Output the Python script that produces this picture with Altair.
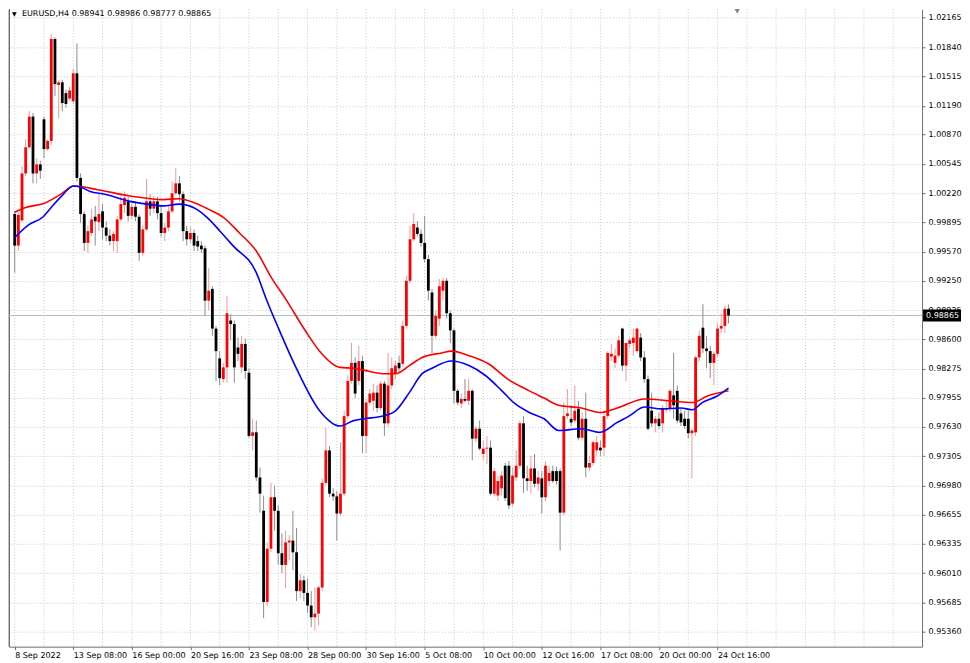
import json
import altair as alt
import pandas as pd

# ---------------- data ----------------
OPEN = [
    0.9999, 0.9964, 0.9992, 1.0044, 1.0073, 1.0107, 1.0044, 1.0054, 1.0104, 1.0071,
    1.0080, 1.0193, 1.0142, 1.0145, 1.0133, 1.0127, 1.0124, 1.0155, 1.0039, 0.9999,
    0.9967, 0.9978, 0.9996, 0.9990, 1.0002, 0.9984, 0.9975, 0.9969, 0.9969, 0.9993,
    1.0009, 1.0013, 0.9997, 1.0007, 0.9996, 0.9956, 0.9982, 1.0013, 1.0005, 1.0013,
    1.0000, 0.9978, 0.9984, 1.0002, 1.0022, 1.0033, 1.0021, 0.9980, 0.9971, 0.9978,
    0.9969, 0.9964, 0.9961, 0.9903, 0.9916, 0.9872, 0.9839, 0.9816, 0.9829, 0.9881,
    0.9877, 0.9851, 0.9829, 0.9855, 0.9823, 0.9753, 0.9757, 0.9707, 0.9670, 0.9569,
    0.9628, 0.9685, 0.9670, 0.9623, 0.9610, 0.9635, 0.9637, 0.9624, 0.9581, 0.9593,
    0.9579, 0.9565, 0.9552, 0.9556, 0.9585, 0.9701, 0.9737, 0.9689, 0.9686, 0.9667,
    0.9689, 0.9775, 0.9814, 0.9834, 0.9814, 0.9836, 0.9753, 0.9790, 0.9792, 0.9801,
    0.9784, 0.9811, 0.9767, 0.9809, 0.9822, 0.9834, 0.9833, 0.9875, 0.9925, 0.9971,
    0.9984, 0.9977, 0.9967, 0.9949, 0.9912, 0.9864, 0.9883, 0.9914, 0.9925, 0.9889,
    0.9870, 0.9803, 0.9789, 0.9794, 0.9792, 0.9803, 0.9750, 0.9761, 0.9733, 0.9739,
    0.9740, 0.9689, 0.9687, 0.9695, 0.9720, 0.9720, 0.9678, 0.9707, 0.9720, 0.9767,
    0.9706, 0.9703, 0.9717, 0.9700, 0.9706, 0.9685, 0.9703, 0.9714, 0.9714, 0.9714,
    0.9668, 0.9775, 0.9772, 0.9770, 0.9783, 0.9751, 0.9772, 0.9718, 0.9723, 0.9737,
    0.9740, 0.9740, 0.9775, 0.9841, 0.9834, 0.9842, 0.9872, 0.9831, 0.9855, 0.9856,
    0.9847, 0.9862, 0.9840, 0.9816, 0.9781, 0.9767, 0.9772, 0.9767, 0.9782, 0.9783,
    0.9798, 0.9803, 0.9778, 0.9772, 0.9772, 0.9756, 0.9757, 0.9840, 0.9873, 0.9850,
    0.9847, 0.9834, 0.9844, 0.9872, 0.9875, 0.98941,
]
HIGH = [
    1.0002, 1.0001, 1.0052, 1.0082, 1.0113, 1.0111, 1.0061, 1.0058, 1.0107, 1.0082,
    1.0199, 1.0195, 1.0147, 1.0148, 1.0137, 1.0140, 1.0160, 1.0188, 1.0044, 1.0002,
    0.9986, 1.0005, 1.0008, 1.0022, 1.0010, 0.9991, 0.9982, 0.9980, 0.9997, 1.0021,
    1.0024, 1.0018, 1.0011, 1.0013, 0.9999, 0.9987, 1.0038, 1.0021, 1.0019, 1.0018,
    1.0008, 0.9989, 1.0008, 1.0035, 1.0050, 1.0041, 1.0024, 0.9986, 0.9985, 0.9982,
    0.9975, 0.9969, 0.9964, 0.9939, 0.9919, 0.9875, 0.9847, 0.9834, 0.9908, 0.9888,
    0.9881, 0.9862, 0.9864, 0.9861, 0.9828, 0.9772, 0.9770, 0.9718, 0.9687, 0.9635,
    0.9701, 0.9698, 0.9676, 0.9645, 0.9648, 0.9643, 0.9670, 0.9651, 0.9600, 0.9598,
    0.9595, 0.9581, 0.9585, 0.9587, 0.9706, 0.9762, 0.9742, 0.9695, 0.9692, 0.9746,
    0.9781, 0.9820, 0.9856, 0.9840, 0.9853, 0.9842, 0.9794, 0.9805, 0.9811, 0.9809,
    0.9814, 0.9814, 0.9845, 0.9840, 0.9836, 0.9842, 0.9881, 0.9931, 0.9986, 1.0000,
    0.9991, 0.9982, 0.9997, 0.9954, 0.9916, 0.9892, 0.9927, 0.9928, 0.9928, 0.9892,
    0.9872, 0.9805, 0.9800, 0.9816, 0.9816, 0.9805, 0.9764, 0.9770, 0.9748, 0.9753,
    0.9748, 0.9718, 0.9709, 0.9714, 0.9723, 0.9725, 0.9718, 0.9737, 0.9770, 0.9775,
    0.9720, 0.9731, 0.9733, 0.9714, 0.9714, 0.9725, 0.9720, 0.9720, 0.9719, 0.9717,
    0.9790, 0.9805, 0.9787, 0.9809, 0.9792, 0.9779, 0.9801, 0.9731, 0.9748, 0.9753,
    0.9748, 0.9781, 0.9847, 0.9855, 0.9850, 0.9864, 0.9873, 0.9853, 0.9862, 0.9872,
    0.9873, 0.9867, 0.9847, 0.9820, 0.9801, 0.9775, 0.9779, 0.9787, 0.9792, 0.9805,
    0.9845, 0.9809, 0.9783, 0.9781, 0.9781, 0.9761, 0.9842, 0.9870, 0.9899, 0.9864,
    0.9853, 0.9847, 0.9878, 0.9889, 0.9897, 0.98986,
]
LOW = [
    0.9934, 0.9958, 0.9990, 1.0041, 1.0071, 1.0033, 1.0033, 1.0038, 1.0061, 1.0069,
    1.0076, 1.0130, 1.0105, 1.0113, 1.0117, 1.0125, 1.0121, 1.0035, 0.9989, 0.9958,
    0.9956, 0.9975, 0.9964, 0.9980, 0.9971, 0.9969, 0.9964, 0.9958, 0.9956, 0.9991,
    1.0000, 0.9991, 0.9993, 0.9991, 0.9947, 0.9953, 0.9980, 0.9997, 1.0000, 0.9993,
    0.9974, 0.9969, 0.9980, 1.0000, 1.0020, 1.0013, 0.9969, 0.9964, 0.9967, 0.9958,
    0.9958, 0.9956, 0.9886, 0.9892, 0.9864, 0.9814, 0.9809, 0.9812, 0.9812, 0.9859,
    0.9812, 0.9836, 0.9823, 0.9816, 0.9751, 0.9737, 0.9703, 0.9668, 0.9551, 0.9565,
    0.9624, 0.9648, 0.9610, 0.9601, 0.9584, 0.9615, 0.9604, 0.9570, 0.9573, 0.9570,
    0.9557, 0.9541, 0.9537, 0.9543, 0.9581, 0.9698, 0.9685, 0.9681, 0.9637, 0.9664,
    0.9686, 0.9772, 0.9811, 0.9795, 0.9809, 0.9734, 0.9734, 0.9787, 0.9781, 0.9779,
    0.9781, 0.9753, 0.9763, 0.9805, 0.9816, 0.9823, 0.9830, 0.9872, 0.9922, 0.9969,
    0.9974, 0.9963, 0.9945, 0.9903, 0.9845, 0.9861, 0.9875, 0.9903, 0.9883, 0.9856,
    0.9789, 0.9787, 0.9784, 0.9790, 0.9787, 0.9726, 0.9746, 0.9737, 0.9726, 0.9722,
    0.9687, 0.9686, 0.9681, 0.9687, 0.9681, 0.9672, 0.9675, 0.9703, 0.9717, 0.9690,
    0.9692, 0.9689, 0.9696, 0.9692, 0.9667, 0.9681, 0.9698, 0.9701, 0.9699, 0.9626,
    0.9665, 0.9772, 0.9764, 0.9767, 0.9748, 0.9748, 0.9707, 0.9714, 0.9720, 0.9731,
    0.9731, 0.9731, 0.9772, 0.9836, 0.9828, 0.9839, 0.9825, 0.9814, 0.9851, 0.9842,
    0.9845, 0.9836, 0.9812, 0.9759, 0.9763, 0.9757, 0.9761, 0.9757, 0.9779, 0.9780,
    0.9772, 0.9767, 0.9764, 0.9761, 0.9750, 0.9706, 0.9753, 0.9836, 0.9845, 0.9828,
    0.9817, 0.9809, 0.9841, 0.9867, 0.9867, 0.98777,
]
CLOSE = [
    0.9964, 0.9998, 1.0044, 1.0073, 1.0107, 1.0044, 1.0054, 1.0047, 1.0071, 1.0080,
    1.0193, 1.0143, 1.0145, 1.0122, 1.0121, 1.0136, 1.0155, 1.0039, 0.9999, 0.9967,
    0.9980, 0.9993, 0.9991, 0.9999, 0.9984, 0.9975, 0.9969, 0.9977, 0.9993, 1.0010,
    1.0017, 0.9997, 1.0007, 0.9996, 0.9956, 0.9982, 1.0013, 1.0005, 1.0013, 1.0000,
    0.9978, 0.9984, 1.0002, 1.0022, 1.0033, 1.0021, 0.9980, 0.9971, 0.9978, 0.9964,
    0.9963, 0.9960, 0.9903, 0.9914, 0.9872, 0.9847, 0.9817, 0.9829, 0.9889, 0.9877,
    0.9829, 0.9844, 0.9855, 0.9825, 0.9753, 0.9757, 0.9707, 0.9689, 0.9569, 0.9628,
    0.9685, 0.9670, 0.9623, 0.9610, 0.9635, 0.9637, 0.9624, 0.9581, 0.9593, 0.9579,
    0.9565, 0.9552, 0.9556, 0.9585, 0.9701, 0.9737, 0.9689, 0.9686, 0.9667, 0.9689,
    0.9775, 0.9814, 0.9834, 0.9800, 0.9836, 0.9753, 0.9790, 0.9800, 0.9801, 0.9784,
    0.9811, 0.9767, 0.9809, 0.9828, 0.9831, 0.9828, 0.9875, 0.9925, 0.9971, 0.9988,
    0.9977, 0.9967, 0.9949, 0.9914, 0.9864, 0.9886, 0.9919, 0.9925, 0.9889, 0.9870,
    0.9803, 0.9790, 0.9794, 0.9792, 0.9803, 0.9750, 0.9761, 0.9739, 0.9739, 0.9740,
    0.9689, 0.9714, 0.9703, 0.9709, 0.9684, 0.9676, 0.9709, 0.9720, 0.9767, 0.9706,
    0.9703, 0.9717, 0.9700, 0.9707, 0.9685, 0.9720, 0.9712, 0.9703, 0.9703, 0.9668,
    0.9775, 0.9778, 0.9768, 0.9781, 0.9751, 0.9772, 0.9718, 0.9723, 0.9746, 0.9746,
    0.9737, 0.9775, 0.9845, 0.9844, 0.9842, 0.9859, 0.9831, 0.9856, 0.9859, 0.9862,
    0.9872, 0.9840, 0.9816, 0.9761, 0.9767, 0.9772, 0.9764, 0.9783, 0.9784, 0.9803,
    0.9787, 0.9770, 0.9768, 0.9764, 0.9756, 0.9759, 0.9840, 0.9864, 0.9850, 0.9847,
    0.9834, 0.9844, 0.9872, 0.9875, 0.9894, 0.98865,
]

# moving averages (red = slow, blue = fast), sampled along the picture
MA_RED_BAR = [0, 2.8, 8.1, 12.6, 16.1, 22.7, 31.5, 40.6, 44.9, 49.4, 52.6, 57.1,
              61.4, 66.0, 70.2, 74.0, 79.5, 83.3, 88.9, 92.6, 95.3, 100.6, 104.1,
              107.8, 111.3, 116.6, 119.3, 124.1, 129.4, 134.7, 140.6, 144.6, 148.6,
              154.8, 159.8, 164.6, 172.1, 178.7, 185.2, 189.1, 195]
MA_RED = [1.0001, 1.0006, 1.0011, 1.0021, 1.0030, 1.0026, 1.0019, 1.0015, 1.0016,
          1.0011, 1.0005, 0.9995, 0.9978, 0.9958, 0.9928, 0.9905, 0.9869, 0.9847,
          0.9829, 0.9828, 0.9826, 0.9822, 0.9822, 0.9831, 0.9840, 0.9845, 0.9847,
          0.9842, 0.9833, 0.9816, 0.9803, 0.9795, 0.9787, 0.9784, 0.9779, 0.9784,
          0.9794, 0.9792, 0.9790, 0.9797, 0.9803]
MA_BLUE_BAR = [0, 3.8, 7.8, 9.9, 12.6, 16.1, 17.9, 20.6, 24.6, 31.5, 36.1, 40.6,
               44.9, 49.4, 52.6, 56.1, 59.6, 66.0, 68.6, 72.1, 76.6, 83.3, 88.9,
               92.6, 95.3, 100.6, 104.1, 107.8, 111.3, 114.0, 119.3, 124.1, 128.6,
               133.1, 136.6, 140.6, 144.6, 148.6, 154.8, 159.8, 164.6, 167.8, 172.1,
               176.6, 182.0, 185.2, 187.8, 191.8, 195]
MA_BLUE = [0.9973, 0.9987, 0.9996, 1.0006, 1.0018, 1.0030, 1.0029, 1.0024, 1.0021,
           1.0013, 1.0010, 1.0008, 1.0010, 1.0005, 0.9995, 0.9980, 0.9964, 0.9934,
           0.9906, 0.9872, 0.9831, 0.9781, 0.9764, 0.9770, 0.9772, 0.9775, 0.9781,
           0.9801, 0.9822, 0.9828, 0.9836, 0.9831, 0.9820, 0.9803, 0.9789, 0.9779,
           0.9772, 0.9759, 0.9761, 0.9757, 0.9768, 0.9775, 0.9785, 0.9783, 0.9784,
           0.9782, 0.9790, 0.9797, 0.9806]

Y_TICKS = [1.02165, 1.01840, 1.01515, 1.01190, 1.00870, 1.00545, 1.00220, 0.99895,
           0.99570, 0.99250, 0.98925, 0.98600, 0.98275, 0.97955, 0.97630, 0.97305,
           0.96980, 0.96655, 0.96335, 0.96010, 0.95685, 0.95360]
X_LABELS = ["8 Sep 2022", "13 Sep 08:00", "16 Sep 00:00", "20 Sep 16:00",
            "23 Sep 08:00", "28 Sep 00:00", "30 Sep 16:00", "5 Oct 08:00",
            "10 Oct 00:00", "12 Oct 16:00", "17 Oct 08:00", "20 Oct 00:00",
            "24 Oct 16:00"]
X_LABEL_BARS = [16 * k for k in range(len(X_LABELS))]
GRID_BARS = list(range(0, 241, 8))
LAST_PRICE = 0.98865
LAST_TEXT = "0.98865"
TITLE = "EURUSD,H4  0.98941 0.98986 0.98777 0.98865"

assert len(OPEN) == len(HIGH) == len(LOW) == len(CLOSE) == 196
assert len(MA_RED_BAR) == len(MA_RED) and len(MA_BLUE_BAR) == len(MA_BLUE)

# ---------------- layout ----------------
W, H = 914, 638
X_DOMAIN = [-0.19, 246.5]
Y_DOMAIN = [0.95194, 1.02259]
FONT = "DejaVu Sans"
FS = 8
FRAME = "#6e6e6e"
GRID = "#c3cad3"

candles = pd.DataFrame({"bar": list(range(len(OPEN))), "open": OPEN, "high": HIGH,
                        "low": LOW, "close": CLOSE})
ma_red = pd.DataFrame({"bar": MA_RED_BAR, "ma": MA_RED})
ma_blue = pd.DataFrame({"bar": MA_BLUE_BAR, "ma": MA_BLUE})
grid_df = pd.DataFrame({"g": GRID_BARS})
half_box = 6 * (Y_DOMAIN[1] - Y_DOMAIN[0]) / H
last_df = pd.DataFrame({"price": [LAST_PRICE], "hi": [LAST_PRICE + half_box],
                        "lo": [LAST_PRICE - half_box], "txt": [LAST_TEXT]})
title_df = pd.DataFrame({"t": [TITLE]})

xs = alt.Scale(domain=X_DOMAIN, nice=False, zero=False)
ys = alt.Scale(domain=Y_DOMAIN, nice=False, zero=False)

label_expr = json.dumps(X_LABELS) + "[round(datum.value / 16)]"
x_axis = alt.Axis(values=X_LABEL_BARS, labelExpr=label_expr, labelAlign="left",
                  labelPadding=2, tickSize=3, tickColor=FRAME, domainColor=FRAME,
                  grid=False, labelFont=FONT, labelFontSize=FS, labelColor="#000000",
                  title=None, labelFlush=False, labelOverlap=False)
y_axis = alt.Axis(orient="right", values=Y_TICKS, format=".5f", grid=True,
                  gridDash=[1, 2], gridColor=GRID, gridWidth=1, tickSize=3,
                  tickColor=FRAME, domainColor=FRAME, labelFont=FONT,
                  labelFontSize=FS, labelColor="#000000", labelPadding=3,
                  title=None, labelOverlap=False, labelFlush=False)

up = "datum.close >= datum.open"

vgrid = alt.Chart(grid_df).mark_rule(strokeDash=[1, 2], color=GRID, strokeWidth=1).encode(
    x=alt.X("g:Q", scale=xs, axis=x_axis), y=alt.value(0), y2=alt.value(H))

left_frame = alt.Chart(grid_df).mark_rule(color=FRAME, strokeWidth=1).encode(
    x=alt.value(0.5), y=alt.value(0), y2=alt.value(H))

last_line = alt.Chart(last_df).mark_rule(color="#b3bdc9", strokeWidth=1).encode(
    y=alt.Y("price:Q", scale=ys, axis=y_axis), x=alt.value(0), x2=alt.value(W))

wicks = alt.Chart(candles).mark_rule(strokeWidth=1).encode(
    x=alt.X("bar:Q", scale=xs, axis=x_axis),
    y=alt.Y("low:Q", scale=ys, axis=y_axis),
    y2="high:Q",
    color=alt.condition(up, alt.value("#f39a9a"), alt.value("#8c8c8c")))

bodies = alt.Chart(candles).mark_bar(size=2.8).encode(
    x=alt.X("bar:Q", scale=xs, axis=x_axis),
    y=alt.Y("open:Q", scale=ys, axis=y_axis),
    y2="close:Q",
    color=alt.condition(up, alt.value("#ff0000"), alt.value("#000000")))

red_line = alt.Chart(ma_red).mark_line(color="#ff0000", strokeWidth=1.6,
                                       interpolate="monotone").encode(
    x=alt.X("bar:Q", scale=xs, axis=x_axis), y=alt.Y("ma:Q", scale=ys, axis=y_axis))

blue_line = alt.Chart(ma_blue).mark_line(color="#0000ff", strokeWidth=1.6,
                                         interpolate="monotone").encode(
    x=alt.X("bar:Q", scale=xs, axis=x_axis), y=alt.Y("ma:Q", scale=ys, axis=y_axis))

title_tri = alt.Chart(title_df).mark_text(text="\u25bc", font=FONT, fontSize=6,
                                          align="left", baseline="middle",
                                          color="#000000").encode(
    x=alt.value(3), y=alt.value(5))
title_txt = alt.Chart(title_df).mark_text(font=FONT, fontSize=FS, align="left",
                                          baseline="middle", color="#000000").encode(
    x=alt.value(13), y=alt.value(5), text="t:N")

box = alt.Chart(last_df).mark_rect(color="#000000").encode(
    y=alt.Y("hi:Q", scale=ys, axis=y_axis), y2="lo:Q",
    x=alt.value(W + 1), x2=alt.value(W + 39))
box_txt = alt.Chart(last_df).mark_text(font=FONT, fontSize=FS, align="left",
                                       baseline="middle", color="#ffffff").encode(
    y=alt.Y("price:Q", scale=ys, axis=y_axis), x=alt.value(W + 4), text="txt:N")

shift_marker = alt.Chart(title_df).mark_point(shape="triangle-down", filled=True,
                                              size=28, color="#7d8996", opacity=1).encode(
    x=alt.value(729), y=alt.value(2))

chart = alt.layer(
    vgrid, left_frame, last_line, wicks, bodies, red_line, blue_line,
    title_tri, title_txt, box, box_txt, shift_marker
).properties(width=W, height=H, padding=0, background="#ffffff").configure_view(
    stroke=None)

chart.save("out.html", embed_options={"renderer": "svg", "actions": False})
